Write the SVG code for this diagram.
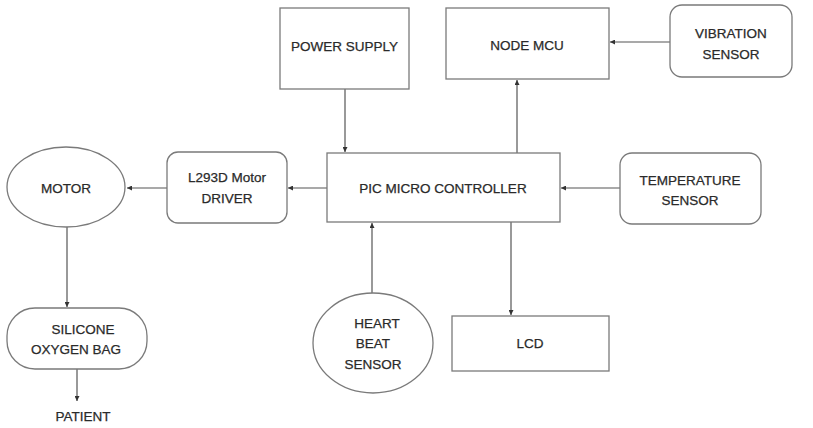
<svg xmlns="http://www.w3.org/2000/svg" width="813" height="428" viewBox="0 0 813 428">
<defs>
<style>
.n{fill:#fff;stroke:#7a7a7a;stroke-width:1.3}
.t{font-family:"Liberation Sans",Arial,sans-serif;font-size:13.5px;fill:#2a2a2a;stroke:#2a2a2a;stroke-width:0.25;text-anchor:middle;dominant-baseline:central}
.c{stroke:#555;stroke-width:1.2;fill:none;marker-end:url(#a)}
</style>
<marker id="a" viewBox="0 0 10 10" refX="10" refY="5" markerWidth="5" markerHeight="5" orient="auto" markerUnits="userSpaceOnUse"><path d="M0,0L10,5L0,10z" fill="#333"/></marker>
</defs>
<rect width="813" height="428" fill="#fff"/>
<g id="connectors">
<line class="c" x1="345" y1="89" x2="345" y2="152"/>
<line class="c" x1="517" y1="153" x2="517" y2="80"/>
<line class="c" x1="670" y1="42" x2="610" y2="42"/>
<line class="c" x1="620" y1="188" x2="561" y2="188"/>
<line class="c" x1="327" y1="188" x2="288" y2="188"/>
<line class="c" x1="167" y1="188" x2="127" y2="188"/>
<line class="c" x1="67" y1="227" x2="67" y2="307"/>
<line class="c" x1="77" y1="369" x2="77" y2="401"/>
<line class="c" x1="372" y1="293" x2="372" y2="223"/>
<line class="c" x1="511" y1="222" x2="511" y2="315"/>
</g>
<g id="power"><rect class="n" x="280" y="8" width="129" height="81"/><text class="t" x="344.5" y="46">POWER SUPPLY</text></g>
<g id="nodemcu"><rect class="n" x="446" y="8" width="163" height="71"/><text class="t" x="527" y="45">NODE MCU</text></g>
<g id="vibration"><rect class="n" x="670" y="5" width="122" height="72" rx="12"/><text class="t" x="731" y="33">VIBRATION</text><text class="t" x="731" y="54">SENSOR</text></g>
<g id="pic"><rect class="n" x="327" y="153" width="233" height="69"/><text class="t" x="443" y="188">PIC MICRO CONTROLLER</text></g>
<g id="temperature"><rect class="n" x="620" y="153" width="141" height="71" rx="12"/><text class="t" x="690" y="180">TEMPERATURE</text><text class="t" x="690" y="200">SENSOR</text></g>
<g id="driver"><rect class="n" x="167" y="152" width="120" height="71" rx="11"/><text class="t" x="227" y="177">L293D Motor</text><text class="t" x="227" y="198">DRIVER</text></g>
<g id="motor"><ellipse class="n" cx="66" cy="187" rx="59" ry="40"/><text class="t" x="66" y="188">MOTOR</text></g>
<g id="bag"><rect class="n" x="7" y="308" width="140" height="61" rx="28"/><text class="t" x="83" y="329">SILICONE</text><text class="t" x="76" y="349">OXYGEN BAG</text></g>
<g id="patient"><text class="t" x="83" y="416">PATIENT</text></g>
<g id="heartbeat"><ellipse class="n" cx="373" cy="343" rx="60" ry="50"/><text class="t" x="377" y="323">HEART</text><text class="t" x="373" y="343">BEAT</text><text class="t" x="373" y="364">SENSOR</text></g>
<g id="lcd"><rect class="n" x="452" y="316" width="157" height="55"/><text class="t" x="530" y="343">LCD</text></g>
</svg>
